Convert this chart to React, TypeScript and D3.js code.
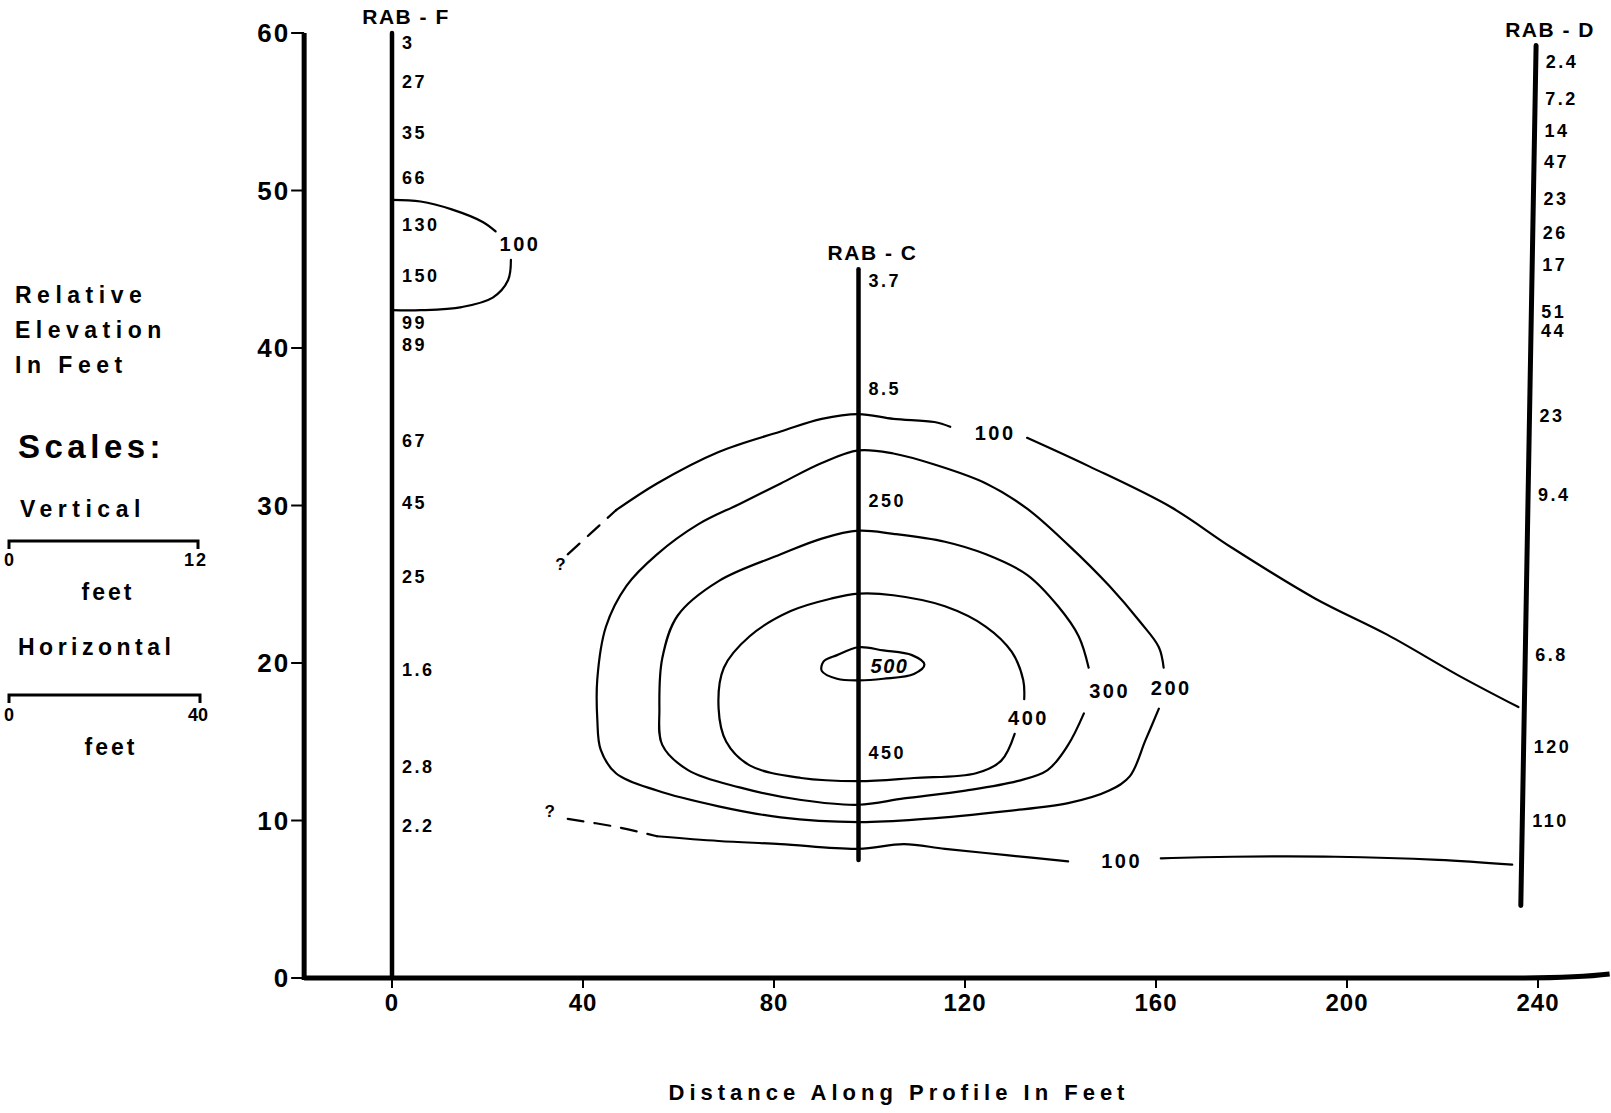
import React from "react";
import * as d3 from "d3";

const W = 1611;
const H = 1113;

// axis ticks
const xTicks = [0, 40, 80, 120, 160, 200, 240];
const yTicks = [0, 10, 20, 30, 40, 50, 60];

// wells: name, x at top / bottom (feet along profile), top / bottom elevation
const wellNames = ["RAB - F", "RAB - C", "RAB - D"];
const wellTopX = [0, 97.7, 239.6];
const wellBottomX = [0, 97.7, 236.4];
const wellTop = [60, 45, 59.2];
const wellBottom = [0, 7.5, 4.6];

// sample values along each well: [elevation, label]
const valuesF: [number, string][] = [
  [59.4, "3"], [56.9, "27"], [53.7, "35"], [50.8, "66"], [47.8, "130"],
  [44.6, "150"], [41.6, "99"], [40.2, "89"], [34.1, "67"], [30.2, "45"],
  [25.5, "25"], [19.6, "1.6"], [13.4, "2.8"], [9.7, "2.2"],
];
const valuesC: [number, string][] = [
  [44.3, "3.7"], [37.4, "8.5"], [30.3, "250"], [14.3, "450"],
];
const valuesD: [number, string][] = [
  [58.2, "2.4"], [55.8, "7.2"], [53.8, "14"], [51.8, "47"], [49.5, "23"],
  [47.3, "26"], [45.3, "17"], [42.3, "51"], [41.1, "44"], [35.7, "23"],
  [30.7, "9.4"], [20.5, "6.8"], [14.7, "120"], [10.0, "110"],
];
const wellValues = [valuesF, valuesC, valuesD];

// contour lines [distance, elevation]
const c100F: [number, number][] = [
  [0, 49.4], [6, 49.3], [12.5, 48.8], [19, 48.0], [21.7, 47.4],
];
const c100Fb: [number, number][] = [
  [24.9, 45.6], [24.3, 44.3], [21.1, 43.2], [14.6, 42.6], [6, 42.4], [0, 42.4],
];
const c100UpDash: [number, number][] = [[36.8, 26.9], [41.5, 28.2], [46.9, 29.7]];
const c100Up: [number, number][] = [
  [46.9, 29.7], [55.5, 31.4], [68.4, 33.4], [81.4, 34.7], [90.0, 35.5],
  [97.7, 35.8], [105, 35.5], [113.6, 35.3], [116.9, 35.0],
];
const c100UpB: [number, number][] = [
  [133, 34.3], [145.9, 32.5], [163.1, 29.9], [176, 27.3], [193.3, 24.1],
  [208.4, 21.8], [223.4, 19.2], [235.9, 17.2],
];
const c100LoDash: [number, number][] = [[36.8, 10.1], [46.9, 9.6], [55.5, 9.0]];
const c100Lo: [number, number][] = [
  [55.5, 9.0], [68.4, 8.7], [81.4, 8.5], [97.7, 8.2], [107.2, 8.5],
  [115.8, 8.2], [128.7, 7.8], [141.6, 7.4],
];
const c100LoB: [number, number][] = [
  [161, 7.6], [176, 7.7], [197.6, 7.7], [219.1, 7.5], [234.6, 7.2],
];
const c200: [number, number][] = [
  [160.6, 17.1], [157.8, 15.1], [154.5, 12.8], [150.2, 11.9], [141.6, 11.1],
  [128.7, 10.6], [111.5, 10.1], [97.7, 9.9], [81.4, 10.2], [68.4, 10.9],
  [55.5, 11.9], [46.9, 13.0], [43.7, 14.5], [43.0, 16.4], [43.0, 19.0],
  [44.8, 22.3], [49.1, 24.9], [55.5, 26.9], [64.1, 28.8], [72.8, 30.1],
  [81.4, 31.4], [90.0, 32.7], [97.7, 33.5], [105, 33.3], [113.6, 32.6],
  [124.4, 31.4], [133, 29.8], [141.6, 27.5], [150.2, 24.9], [156.7, 22.6],
  [160.6, 21.0], [161.6, 19.7],
];
const c300: [number, number][] = [
  [144.9, 16.8], [141.6, 14.8], [137.3, 13.2], [130.9, 12.5], [120.1, 11.9],
  [107.2, 11.4], [97.7, 11.0], [85.7, 11.3], [72.8, 12.1], [62.0, 13.2],
  [56.6, 14.8], [56.0, 17.1], [56.6, 20.3], [59.8, 23.0], [68.4, 25.2],
  [81.4, 26.9], [90.0, 27.9], [97.7, 28.4], [105, 28.2], [115.8, 27.7],
  [124.4, 26.9], [133, 25.6], [139.5, 23.6], [143.8, 21.7], [145.9, 19.7],
];
const c400: [number, number][] = [
  [130.4, 15.5], [127.6, 13.8], [122.3, 13.0], [109.3, 12.7], [97.7, 12.5],
  [85.7, 12.7], [74.9, 13.5], [70.0, 15.0], [68.4, 17.1], [69.5, 19.7],
  [74.9, 21.7], [83.5, 23.3], [92.1, 24.1], [97.7, 24.4], [105, 24.3],
  [115.8, 23.6], [124.4, 22.3], [129.8, 20.7], [132.2, 18.9], [132.4, 17.7],
];
const c500: [number, number][] = [
  [97.7, 21.0], [102.9, 20.8], [108.9, 20.5], [111.5, 19.9], [109.3, 19.3],
  [102.9, 19.0], [97.7, 18.9], [93.2, 19.0], [90.0, 19.5], [90.4, 20.1],
  [93.2, 20.5],
];

// contour labels [distance, elevation, text]
const contourLabels: [number, number, string][] = [
  [26.8, 46.6, "100"], [126.3, 34.6, "100"], [152.8, 7.4, "100"],
  [163.2, 18.4, "200"], [150.3, 18.2, "300"], [133.3, 16.5, "400"],
];
const questionMarks: [number, number][] = [[35.3, 26.3], [33.0, 10.6]];

const FONT = "'Liberation Sans', Arial, sans-serif";

export default function App() {
  const x = d3.scaleLinear().domain([0, 240]).range([392, 1538]);
  const y = d3.scaleLinear().domain([0, 60]).range([978, 33]);
  const xMin = -18.4;
  const xMax = 255;

  const smooth = d3
    .line<[number, number]>()
    .x((d) => x(d[0]))
    .y((d) => y(d[1]))
    .curve(d3.curveCatmullRom.alpha(0.5));
  const closed = d3
    .line<[number, number]>()
    .x((d) => x(d[0]))
    .y((d) => y(d[1]))
    .curve(d3.curveCatmullRomClosed.alpha(0.5));

  const solid = [c100F, c100Fb, c100Up, c100UpB, c100Lo, c100LoB, c200, c300, c400];
  const dashed = [c100UpDash, c100LoDash];

  const wellXAt = (i: number, e: number) => {
    const t = (e - wellBottom[i]) / (wellTop[i] - wellBottom[i]);
    return x(wellBottomX[i] + (wellTopX[i] - wellBottomX[i]) * t);
  };

  // scale bars: 12 ft vertical, 40 ft horizontal
  const vBar = y(0) - y(12);
  const hBar = x(40) - x(0);

  return (
    <svg width={W} height={H} style={{ display: "block", position: "absolute", left: 0, top: 0, background: "#fff" }}>
      <g fontFamily={FONT} fill="#000">
        {/* axes */}
        <line x1={x(xMin)} x2={x(xMin)} y1={y(60)} y2={y(0) + 2} stroke="#000" strokeWidth={5} />
        <path
          d={`M${x(xMin)},${y(0)}L${x(235)},${y(0)}Q${x(248)},${y(0)} ${x(xMax)},${y(0) - 4}`}
          fill="none"
          stroke="#000"
          strokeWidth={5}
        />
        {yTicks.map((t) => (
          <g key={"yt" + t}>
            <line x1={x(xMin) - 13} x2={x(xMin)} y1={y(t)} y2={y(t)} stroke="#000" strokeWidth={2} />
            <text x={x(xMin) - 14} y={y(t)} dy="0.35em" textAnchor="end" fontSize={26} fontWeight="bold" letterSpacing={2}>
              {t}
            </text>
          </g>
        ))}
        {xTicks.map((t) => (
          <g key={"xt" + t}>
            <line x1={x(t)} x2={x(t)} y1={y(0)} y2={y(0) + 10} stroke="#000" strokeWidth={2} />
            <text x={x(t)} y={y(0) + 33} textAnchor="middle" fontSize={24} fontWeight="bold" letterSpacing={1}>
              {t}
            </text>
          </g>
        ))}
        <text x={899} y={1100} textAnchor="middle" fontSize={22} fontWeight="bold" letterSpacing={5}>
          Distance Along Profile In Feet
        </text>

        {/* left side annotations */}
        <g fontSize={23} fontWeight="bold" letterSpacing={5.5}>
          <text x={15} y={303}>Relative</text>
          <text x={15} y={338}>Elevation</text>
          <text x={15} y={373}>In  Feet</text>
        </g>
        <text x={18} y={458} fontSize={33} fontWeight="bold" letterSpacing={4.5}>Scales:</text>
        <text x={20} y={517} fontSize={23} fontWeight="bold" letterSpacing={5.5}>Vertical</text>
        <path d={`M9,${549}V${541}H${9 + vBar}V${549}`} fill="none" stroke="#000" strokeWidth={3} />
        <text x={9} y={566} textAnchor="middle" fontSize={18} fontWeight="bold">0</text>
        <text x={9 + vBar - 2} y={566} textAnchor="middle" fontSize={18} fontWeight="bold" letterSpacing={2}>12</text>
        <text x={108} y={600} textAnchor="middle" fontSize={23} fontWeight="bold" letterSpacing={3}>feet</text>
        <text x={18} y={655} fontSize={23} fontWeight="bold" letterSpacing={4.5}>Horizontal</text>
        <path d={`M9,${703}V${695}H${9 + hBar}V${703}`} fill="none" stroke="#000" strokeWidth={3} />
        <text x={9} y={721} textAnchor="middle" fontSize={18} fontWeight="bold">0</text>
        <text x={9 + hBar - 2} y={721} textAnchor="middle" fontSize={18} fontWeight="bold">40</text>
        <text x={111} y={755} textAnchor="middle" fontSize={23} fontWeight="bold" letterSpacing={3}>feet</text>

        {/* contours */}
        <g fill="none" stroke="#000" strokeWidth={2.2} strokeLinejoin="round" strokeLinecap="round">
          {solid.map((c, i) => (
            <path key={"c" + i} d={smooth(c) ?? ""} />
          ))}
          {dashed.map((c, i) => (
            <path key={"d" + i} d={smooth(c) ?? ""} strokeDasharray="16 11" />
          ))}
          <path d={closed(c500) ?? ""} />
        </g>
        {contourLabels.map(([cx, cy, s], i) => (
          <text key={"cl" + i} x={x(cx)} y={y(cy)} dy="0.35em" textAnchor="middle" fontSize={20} fontWeight="bold" letterSpacing={2.5}>
            {s}
          </text>
        ))}
        <text x={x(104.2)} y={y(19.8)} dy="0.35em" textAnchor="middle" fontSize={20} fontWeight="bold" fontStyle="italic" letterSpacing={1.5}>
          500
        </text>
        {questionMarks.map(([qx, qy], i) => (
          <text key={"q" + i} x={x(qx)} y={y(qy)} dy="0.35em" textAnchor="middle" fontSize={17} fontWeight="bold">?</text>
        ))}

        {/* wells */}
        {wellNames.map((name, i) => (
          <g key={name}>
            <line
              x1={x(wellTopX[i])}
              x2={x(wellBottomX[i])}
              y1={y(wellTop[i])}
              y2={y(wellBottom[i])}
              stroke="#000"
              strokeWidth={i === 2 ? 5 : 4.5}
              strokeLinecap="round"
            />
            <text x={x(wellTopX[i]) + 14} y={y(wellTop[i]) - 9} textAnchor="middle" fontSize={21} fontWeight="bold" letterSpacing={1.5}>
              {name}
            </text>
            {wellValues[i].map(([e, s], j) => (
              <text key={j} x={wellXAt(i, e) + 10} y={y(e)} dy="0.35em" fontSize={18} fontWeight="bold" letterSpacing={2.5}>
                {s}
              </text>
            ))}
          </g>
        ))}
      </g>
    </svg>
  );
}
